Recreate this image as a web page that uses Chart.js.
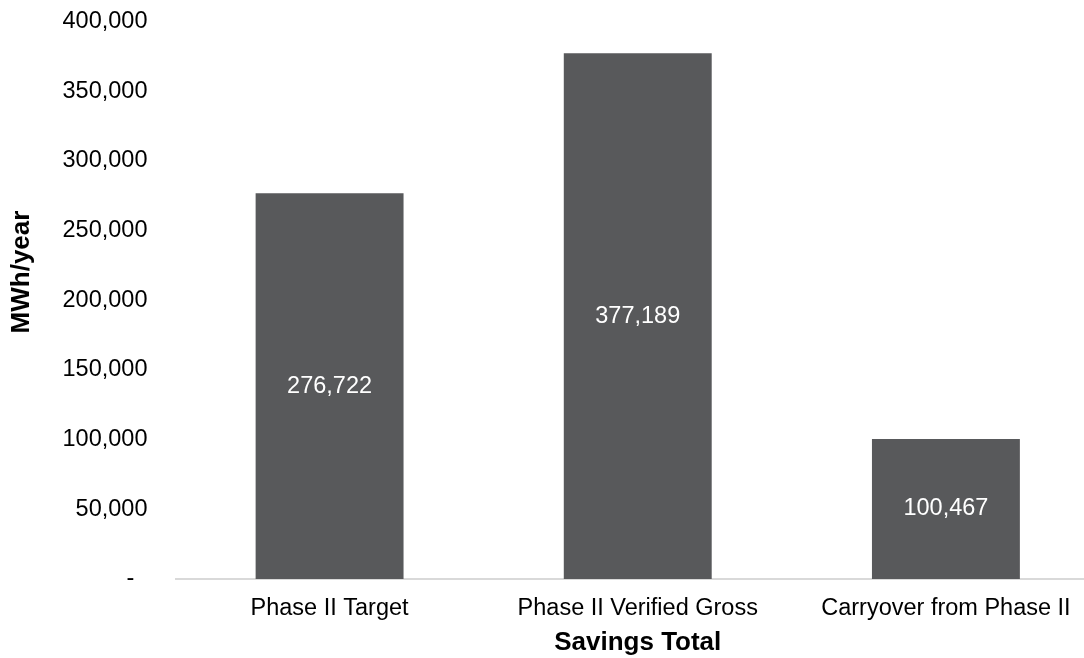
<!DOCTYPE html>
<html>
<head>
<meta charset="utf-8">
<script src="https://cdn.jsdelivr.net/npm/chart.js@4/dist/chart.umd.min.js"></script>
<style>
  html, body { margin: 0; padding: 0; background: #fff; overflow: hidden; }
  #wrap { position: relative; width: 1100px; height: 658px; }
</style>
</head>
<body>
<div id="wrap"><canvas id="savingsChart"></canvas></div>
<script>
// Savings data (MWh/year)
const categories = ['Phase II Target', 'Phase II Verified Gross', 'Carryover from Phase II'];
const savings = [276722, 377189, 100467];
const yTicks = [0, 50000, 100000, 150000, 200000, 250000, 300000, 350000, 400000];

const FONT = '"Liberation Sans", Arial, sans-serif';
const BAR_COLOR = '#58595b';

const fmt = v => v === 0 ? '-  ' : v.toLocaleString('en-US');

// White value labels in the middle of each bar
const barLabels = {
  id: 'barLabels',
  afterDatasetsDraw(chart) {
    const { ctx } = chart;
    const meta = chart.getDatasetMeta(0);
    ctx.save();
    ctx.fillStyle = '#ffffff';
    ctx.font = `23.5px ${FONT}`;
    ctx.textAlign = 'center';
    ctx.textBaseline = 'middle';
    meta.data.forEach((bar, i) => {
      ctx.fillText(fmt(savings[i]), bar.x, (bar.y + bar.base) / 2);
    });
    ctx.restore();
  }
};

// Vertical axis title, sitting a little above the axis middle
const yTitle = {
  id: 'yTitle',
  afterDraw(chart) {
    const { ctx } = chart;
    ctx.save();
    ctx.translate(21.5, 272);
    ctx.rotate(-Math.PI / 2);
    ctx.fillStyle = '#000';
    ctx.font = `bold 26px ${FONT}`;
    ctx.textAlign = 'center';
    ctx.textBaseline = 'middle';
    ctx.fillText('MWh/year', 0, 0);
    ctx.restore();
  }
};

new Chart(document.getElementById('savingsChart'), {
  type: 'bar',
  data: {
    labels: categories,
    datasets: [{
      label: 'Savings',
      data: savings,
      backgroundColor: BAR_COLOR,
      borderWidth: 0,
      categoryPercentage: 1,
      barPercentage: 0.48
    }]
  },
  options: {
    responsive: true,
    maintainAspectRatio: false,
    animation: false,
    layout: { padding: { top: 21.5, left: 0, right: 0, bottom: 0 } },
    plugins: {
      legend: { display: false },
      tooltip: { enabled: false }
    },
    scales: {
      x: {
        grid: { display: false, drawTicks: false },
        border: { display: true, color: '#d9d9d9', width: 2 },
        ticks: {
          color: '#000',
          padding: 15,
          maxRotation: 0,
          autoSkip: false,
          font: { family: FONT, size: 23.5 }
        },
        title: {
          display: true,
          text: 'Savings Total',
          color: '#000',
          padding: { top: 0, bottom: 0 },
          font: { family: FONT, size: 26, weight: 'bold' }
        },
        afterFit: scale => {
          scale.height = 79;
          scale.paddingLeft = 0;
          scale.paddingRight = 0;
        }
      },
      y: {
        min: 0,
        max: 400000,
        grid: { display: false, drawTicks: false },
        border: { display: false },
        afterBuildTicks: scale => { scale.ticks = yTicks.map(v => ({ value: v })); },
        ticks: {
          color: '#000',
          padding: 28,
          callback: v => fmt(v),
          font: { family: FONT, size: 23.5 }
        },
        afterFit: scale => {
          scale.width = 175.5;
          scale.paddingTop = 0;
          scale.paddingBottom = 0;
        }
      }
    }
  },
  plugins: [barLabels, yTitle]
});
</script>
</body>
</html>
